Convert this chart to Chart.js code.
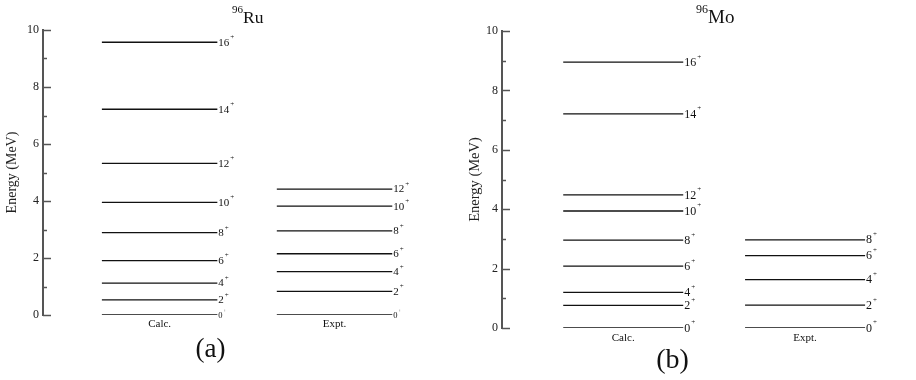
<!DOCTYPE html>
<html lang="en">
<head>
  <meta charset="UTF-8" />
  <title>96Ru and 96Mo level schemes</title>
  <style>
    body { margin: 0; background: #fff; }
    .wrap { position: relative; width: 916px; height: 380px; }
    canvas { position: absolute; top: 0; }
    #ru { left: 0; }
    #mo { left: 458px; }
  </style>
</head>
<body>
  <div class="wrap">
    <canvas id="ru" width="458" height="380"></canvas>
    <canvas id="mo" width="458" height="380"></canvas>
  </div>

  <script src="https://cdn.jsdelivr.net/npm/chart.js"></script>
  <script>
    // level energies in MeV
    const columns = ['Calc.', 'Expt.'];
    const yTicks = [0, 2, 4, 6, 8, 10];

    const ruCalcSpins = ['0', '2', '4', '6', '8', '10', '12', '14', '16'];
    const ruCalc = [0, 0.53, 1.12, 1.91, 2.89, 3.95, 5.32, 7.22, 9.57];
    const ruExptSpins = ['0', '2', '4', '6', '8', '10', '12'];
    const ruExpt = [0, 0.83, 1.52, 2.15, 2.95, 3.82, 4.42];

    const moCalcSpins = ['0', '2', '4', '6', '8', '10', '12', '14', '16'];
    const moCalc = [0, 0.76, 1.20, 2.08, 2.96, 3.94, 4.48, 7.21, 8.95];
    const moExptSpins = ['0', '2', '4', '6', '8'];
    const moExpt = [0, 0.77, 1.63, 2.44, 2.97];

    const HALF = 0.33;
    const SERIF = '"Liberation Serif", "Times New Roman", serif';

    function levelSets(energies, spins, col) {
      return energies.map((e, i) => ({
        data: [{ x: col - HALF, y: e }, { x: col + HALF, y: e }],
        spin: spins[i],
        borderColor: '#111',
        borderWidth: 1.3,
        pointRadius: 0,
      }));
    }

    const levelScheme = {
      id: 'levelScheme',
      afterDraw(chart, args, o) {
        const { ctx, chartArea: a, scales: { x, y } } = chart;
        ctx.save();

        // inward ticks, minor ones shorter
        ctx.strokeStyle = '#555';
        ctx.lineWidth = 1.5;
        y.ticks.forEach((t) => {
          const py = Math.round(y.getPixelForValue(t.value)) + 0.5;
          const len = t.value % 2 ? 4 : 8;
          ctx.beginPath();
          ctx.moveTo(a.left, py);
          ctx.lineTo(a.left + len, py);
          ctx.stroke();
        });

        // spin labels at the right end of each level
        ctx.fillStyle = '#111';
        ctx.textAlign = 'left';
        ctx.textBaseline = 'middle';
        chart.data.datasets.forEach((ds, i) => {
          const pt = chart.getDatasetMeta(i).data[1];
          const size = ds.spin === '0' ? o.zeroSize : o.spinSize;
          ctx.font = size + 'px ' + SERIF;
          ctx.fillText(ds.spin, pt.x + 1, pt.y + 0.5);
          const w = ctx.measureText(ds.spin).width;
          ctx.font = Math.round(size * 0.6) + 'px ' + SERIF;
          ctx.fillText('+', pt.x + 2 + w, pt.y - size * 0.45);
        });

        // column names under the levels
        ctx.textAlign = 'center';
        ctx.font = o.colSize + 'px ' + SERIF;
        columns.forEach((c, i) => {
          ctx.fillText(c, x.getPixelForValue(i + 1), a.bottom + o.colGap);
        });

        // nucleus title with mass number superscript
        ctx.textAlign = 'left';
        ctx.textBaseline = 'alphabetic';
        ctx.font = o.supSize + 'px ' + SERIF;
        ctx.fillText(o.sup, o.titleX, o.supBase);
        const sw = ctx.measureText(o.sup).width;
        ctx.font = o.mainSize + 'px ' + SERIF;
        ctx.fillText(o.main, o.titleX + sw, o.mainBase);

        // panel tag
        ctx.textAlign = 'center';
        ctx.textBaseline = 'middle';
        ctx.font = o.tagSize + 'px ' + SERIF;
        ctx.fillText(o.tag, o.tagX, o.tagY);

        ctx.restore();
      },
    };

    function makeChart(id, calc, calcSpins, expt, exptSpins, lay, opts) {
      return new Chart(document.getElementById(id), {
        type: 'line',
        data: {
          datasets: [
            ...levelSets(calc, calcSpins, 1),
            ...levelSets(expt, exptSpins, 2),
          ],
        },
        options: {
          responsive: false,
          animation: false,
          layout: { padding: lay.padding },
          plugins: {
            legend: { display: false },
            tooltip: { enabled: false },
            levelScheme: opts,
          },
          scales: {
            x: { type: 'linear', min: 1 / 3, max: lay.xMax, display: false },
            y: {
              min: 0,
              max: 10,
              afterFit: (s) => { s.width = lay.axisWidth; },
              ticks: {
                stepSize: 1,
                autoSkip: false,
                padding: 4,
                color: '#222',
                font: { family: SERIF, size: lay.tickSize },
                callback: (v) => (yTicks.includes(v) ? v : ''),
              },
              grid: { display: false, drawTicks: false },
              border: { display: true, color: '#555', width: 2 },
              title: {
                display: true,
                text: 'Energy (MeV)',
                color: '#222',
                font: { family: SERIF, size: lay.titleSize },
                padding: { top: lay.titlePad, bottom: 4 },
              },
            },
          },
        },
        plugins: [levelScheme],
      });
    }

    makeChart('ru', ruCalc, ruCalcSpins, ruExpt, ruExptSpins,
      { padding: { left: 0, top: 30, right: 36, bottom: 65 }, xMax: 2.5, axisWidth: 43,
        tickSize: 12, titleSize: 14, titlePad: 4 },
      { spinSize: 11, zeroSize: 8.5, colSize: 11, colGap: 9,
        sup: '96', main: 'Ru', supSize: 11, mainSize: 17.5, titleX: 232, supBase: 12.5, mainBase: 22.7,
        tag: '(a)', tagSize: 27, tagX: 210.5, tagY: 349.5 });

    makeChart('mo', moCalc, moCalcSpins, moExpt, moExptSpins,
      { padding: { left: 0, top: 31, right: 20, bottom: 52 }, xMax: 2.5, axisWidth: 44,
        tickSize: 12, titleSize: 14.5, titlePad: 8 },
      { spinSize: 12, zeroSize: 12, colSize: 11, colGap: 10.5,
        sup: '96', main: 'Mo', supSize: 12, mainSize: 19, titleX: 238, supBase: 12.5, mainBase: 22.7,
        tag: '(b)', tagSize: 28, tagX: 214.5, tagY: 360.5 });
  </script>
</body>
</html>
